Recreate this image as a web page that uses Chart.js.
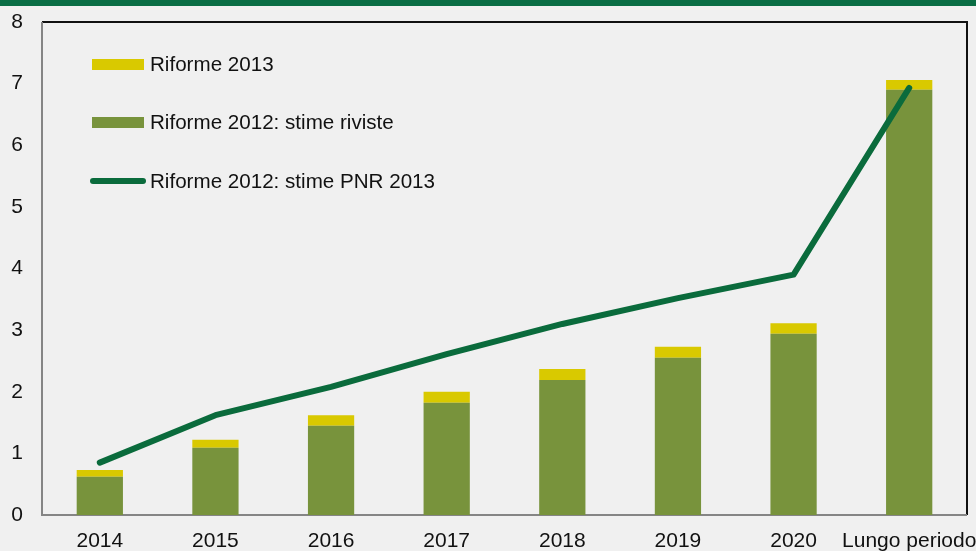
<!DOCTYPE html>
<html>
<head>
<meta charset="utf-8">
<script src="https://cdn.jsdelivr.net/npm/chart.js@4"></script>
<style>
  html, body { margin: 0; padding: 0; background: #f0f0f0; width: 976px; height: 551px; overflow: hidden; }
  #banda { position: absolute; left: 0; top: 0; width: 976px; height: 6px; background: #0a6e45; }
  #contenitore { position: absolute; left: 0; top: 0; width: 976px; height: 551px; }
  .legenda { position: absolute; left: 90px; font-family: "Liberation Sans", Arial, sans-serif; font-size: 20.6px; color: #111; }
  .voce { position: absolute; left: 0; white-space: nowrap; height: 24px; line-height: 24px; }
  .simbolo { position: absolute; left: 2px; width: 52px; }
  .voce span.testo { position: absolute; left: 60px; top: 0; }
</style>
</head>
<body>
<div id="contenitore"><canvas id="grafico" width="976" height="551"></canvas></div>
<div id="banda"></div>
<div class="legenda" id="legenda"></div>
<script>
(() => {

    const categorie = ["2014", "2015", "2016", "2017", "2018", "2019", "2020", "Lungo periodo"];
    const riforme2012Riviste = [0.62, 1.09, 1.45, 1.82, 2.19, 2.55, 2.94, 6.90];
    const riforme2013 = [0.11, 0.13, 0.17, 0.18, 0.18, 0.18, 0.17, 0.16];
    const riforme2012Pnr = [0.85, 1.62, 2.08, 2.61, 3.10, 3.52, 3.90, 6.93];
    const tickAsseY = [0, 1, 2, 3, 4, 5, 6, 7, 8];

    const verdeChiaro = "#78933c";
    const giallo = "#d9c900";
    const verdeScuro = "#0a6b3c";
    const font = "'Liberation Sans', Arial, sans-serif";

    // bordo del riquadro: sinistra e basso grigi, sopra e destra neri
    const bordoRiquadro = {
        id: "bordoRiquadro",
        beforeDatasetsDraw(chart) {
            const { ctx, chartArea: a } = chart;
            ctx.save();
            ctx.lineWidth = 2;
            ctx.strokeStyle = "#111";
            ctx.beginPath();
            ctx.moveTo(a.left, a.top);
            ctx.lineTo(a.right, a.top);
            ctx.lineTo(a.right, a.bottom);
            ctx.stroke();
            ctx.strokeStyle = "#858585";
            ctx.beginPath();
            ctx.moveTo(a.left, a.top);
            ctx.lineTo(a.left, a.bottom);
            ctx.lineTo(a.right, a.bottom);
            ctx.stroke();
            ctx.restore();
        }
    };

    // niente spazio extra per le etichette che sbordano
    function azzeraPadding(scale) {
        scale.paddingLeft = 0;
        scale.paddingRight = 0;
        scale.paddingTop = 0;
        scale.paddingBottom = 0;
    }

    const ctx = document.getElementById("grafico");

    new Chart(ctx, {
        type: "bar",
        data: {
            labels: categorie,
            datasets: [
                {
                    type: "line",
                    label: "Riforme 2012: stime PNR 2013",
                    data: riforme2012Pnr,
                    borderColor: verdeScuro,
                    borderWidth: 6,
                    borderCapStyle: "round",
                    borderJoinStyle: "round",
                    pointRadius: 0,
                    tension: 0,
                    order: 0
                },
                {
                    label: "Riforme 2012: stime riviste",
                    data: riforme2012Riviste,
                    backgroundColor: verdeChiaro,
                    stack: "s",
                    barPercentage: 0.4,
                    categoryPercentage: 1,
                    order: 1
                },
                {
                    label: "Riforme 2013",
                    data: riforme2013,
                    backgroundColor: giallo,
                    stack: "s",
                    barPercentage: 0.4,
                    categoryPercentage: 1,
                    order: 1
                }
            ]
        },
        options: {
            responsive: false,
            animation: false,
            layout: { padding: { top: 22, right: 9, left: 0, bottom: 0 } },
            plugins: {
                legend: { display: false },
                tooltip: { enabled: false }
            },
            scales: {
                x: {
                    stacked: true,
                    grid: { display: false, drawTicks: false },
                    border: { display: false },
                    ticks: { color: "#111", font: { family: font, size: 21 }, padding: 14, maxRotation: 0, autoSkip: false },
                    afterFit(scale) { scale.height = 36; azzeraPadding(scale); }
                },
                y: {
                    stacked: true,
                    min: 0,
                    max: 8,
                    grid: { display: false, drawTicks: false },
                    border: { display: false },
                    afterBuildTicks(scale) { scale.ticks = tickAsseY.map(v => ({ value: v })); },
                    ticks: { color: "#111", font: { family: font, size: 21 }, padding: 19 },
                    afterFit(scale) { scale.width = 42; azzeraPadding(scale); }
                }
            }
        },
        plugins: [bordoRiquadro]
    });

    // legenda dentro il riquadro, come nell'originale
    const vociLegenda = [
        { testo: "Riforme 2013", colore: giallo, tipo: "box", y: 52 },
        { testo: "Riforme 2012: stime riviste", colore: verdeChiaro, tipo: "box", y: 110 },
        { testo: "Riforme 2012: stime PNR 2013", colore: verdeScuro, tipo: "linea", y: 169 }
    ];
    const legenda = document.getElementById("legenda");
    vociLegenda.forEach(voce => {
        const riga = document.createElement("div");
        riga.className = "voce";
        riga.style.top = voce.y + "px";
        const simbolo = document.createElement("div");
        simbolo.className = "simbolo";
        simbolo.style.background = voce.colore;
        if (voce.tipo === "box") {
            simbolo.style.top = "7px";
            simbolo.style.height = "11px";
        } else {
            simbolo.style.top = "9px";
            simbolo.style.height = "6px";
            simbolo.style.left = "0px";
            simbolo.style.width = "56px";
            simbolo.style.borderRadius = "3px";
        }
        const testo = document.createElement("span");
        testo.className = "testo";
        testo.textContent = voce.testo;
        riga.appendChild(simbolo);
        riga.appendChild(testo);
        legenda.appendChild(riga);
    });

})();
</script>
</body>
</html>
